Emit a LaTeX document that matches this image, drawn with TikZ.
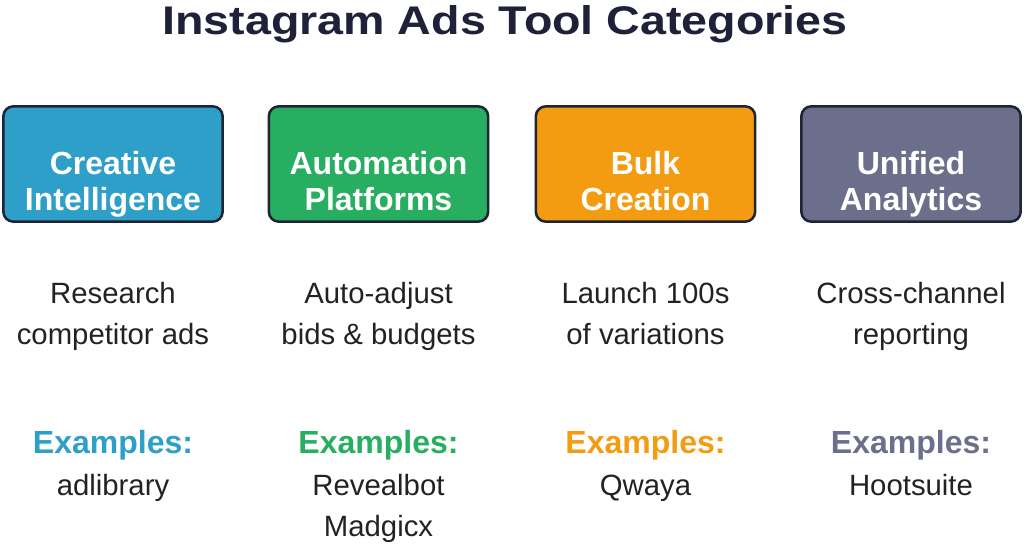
\documentclass[tikz,border=0pt]{standalone}
\usepackage{fontspec}
\setmainfont{Liberation Sans}
\usetikzlibrary{positioning}

\definecolor{titlec}{HTML}{1F2139}
\definecolor{textc}{HTML}{222222}
\definecolor{edgec}{HTML}{1E2433}
\definecolor{cblue}{HTML}{2E9FC9}
\definecolor{cgreen}{HTML}{27AE60}
\definecolor{corange}{HTML}{F39C12}
\definecolor{cgray}{HTML}{6B6F8B}

\begin{document}
\begin{tikzpicture}[x=0.75pt, y=-0.75pt,
    cat/.style={draw=edgec, line width=1.9pt, rounded corners=7.5pt,
        minimum width=164.5pt, minimum height=86.5pt},
    catname/.style={text=white, font=\fontsize{24}{27}\selectfont\bfseries,
        align=center, anchor=base},
    desc/.style={text=textc, font=\fontsize{22}{30.75}\selectfont,
        align=center, anchor=base},
    exhead/.style={font=\fontsize{24}{27}\selectfont\bfseries, anchor=base},
    extool/.style={text=textc, font=\fontsize{22}{30.75}\selectfont,
        align=center, anchor=base}]
    \useasboundingbox (0,0) rectangle (1024,543);
    \node (T) [anchor=base, text=titlec, font=\fontsize{30}{36}\selectfont\bfseries]
        at (505,34) {\scalebox{1.165}[1]{Instagram Ads Tool Categories}};

    % category boxes
    \node (C1) [cat, fill=cblue] at (113,164) {};
    \node (C2) [cat, fill=cgreen] at (378.5,164) {};
    \node (C3) [cat, fill=corange] at (645.5,164) {};
    \node (C4) [cat, fill=cgray] at (911,164) {};
    \node (N1) [catname] at (113,210) {Creative\\Intelligence};
    \node (N2) [catname] at (378.5,210) {Automation\\Platforms};
    \node (N3) [catname] at (645.5,210) {Bulk\\Creation};
    \node (N4) [catname] at (911,210) {Unified\\Analytics};

    % what they do
    \node (D1) [desc] at (113,344) {Research\\competitor ads};
    \node (D2) [desc] at (378.5,344) {Auto-adjust\\bids \& budgets};
    \node (D3) [desc] at (645.5,344) {Launch 100s\\of variations};
    \node (D4) [desc] at (911,344) {Cross-channel\\reporting};

    % examples
    \node (H1) [exhead, text=cblue] at (113,453) {Examples:};
    \node (H2) [exhead, text=cgreen] at (378.5,453) {Examples:};
    \node (H3) [exhead, text=corange] at (645.5,453) {Examples:};
    \node (H4) [exhead, text=cgray] at (911,453) {Examples:};
    \node (E1) [extool] at (113,495) {adlibrary};
    \node (E2) [extool] at (378.5,536) {Revealbot\\Madgicx};
    \node (E3) [extool] at (645.5,495) {Qwaya};
    \node (E4) [extool] at (911,495) {Hootsuite};
\end{tikzpicture}
\end{document}
